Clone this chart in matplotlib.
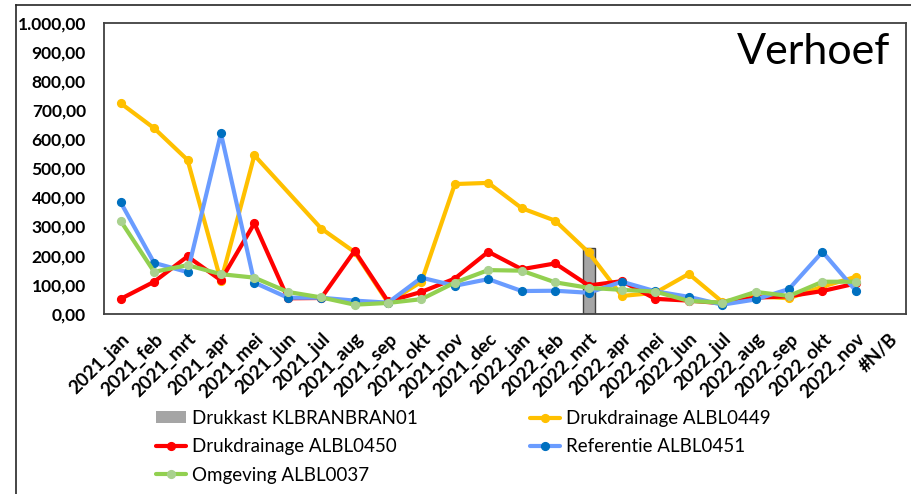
import numpy as np
import matplotlib
matplotlib.use("Agg")
import matplotlib.pyplot as plt
from matplotlib.lines import Line2D
from matplotlib.patches import Patch

plt.rcParams['font.family'] = ['Lato', 'DejaVu Sans']

nan = np.nan
categories = ['2021_jan', '2021_feb', '2021_mrt', '2021_apr', '2021_mei', '2021_jun',
              '2021_jul', '2021_aug', '2021_sep', '2021_okt', '2021_nov', '2021_dec',
              '2022_jan', '2022_feb', '2022_mrt', '2022_apr', '2022_mei', '2022_jun',
              '2022_jul', '2022_aug', '2022_sep', '2022_okt', '2022_nov', '#N/B']

drukkast_klbranbran01 = [nan] * 14 + [225] + [nan] * 9
drukdrainage_albl0449 = [724, 638, 529, 112, 545, nan, 293, 212, 38, 110, 446, 450,
                         363, 320, 211, 61, 72, 137, 41, 60, 53, 93, 127, nan]
drukdrainage_albl0450 = [51, 110, 197, 115, 311, 53, 54, 216, 42, 75, 121, 213,
                         153, 173, 97, 112, 51, 45, 36, 55, 60, 78, 104, nan]
referentie_albl0451 = [383, 175, 143, 620, 107, 55, 55, 45, 38, 124, 96, 119,
                       78, 79, 72, 110, 77, 58, 31, 49, 85, 213, 79, nan]
omgeving_albl0037 = [319, 144, 167, 136, 124, 75, 56, 31, 37, 50, 107, 150,
                     148, 108, 89, 82, 76, 44, 38, 75, 61, 110, 110, nan]

W, H = 912, 494
fig = plt.figure(figsize=(W / 100, H / 100), dpi=100)
ax = fig.add_axes([104 / W, 1 - 313.7 / H, 802 / W, 290.7 / H])

x = np.arange(len(categories))

ax.bar(x, drukkast_klbranbran01, width=0.36, color='#A5A5A5', edgecolor='#404040',
       linewidth=1.0, zorder=1)

series = [
    (drukdrainage_albl0449, 'Drukdrainage ALBL0449', '#FFC000', '#FFC000'),
    (drukdrainage_albl0450, 'Drukdrainage ALBL0450', '#FF0000', '#FF0000'),
    (referentie_albl0451, 'Referentie ALBL0451', '#6A9CFF', '#0070C0'),
    (omgeving_albl0037, 'Omgeving ALBL0037', '#92D050', '#A9D18E'),
]
handles = {}
for i, (vals, name, lc, mc) in enumerate(series):
    v = np.array(vals, dtype=float)
    m = ~np.isnan(v)
    h, = ax.plot(x[m], v[m], color=lc, lw=3.0, marker='o', markersize=5.6,
                 markerfacecolor=mc, markeredgecolor=mc, solid_joinstyle='round',
                 solid_capstyle='round', zorder=2 + i, label=name)
    handles[name] = h

ax.set_xlim(-0.5, len(categories) - 0.5)
ax.set_ylim(0, 1000)
ax.set_yticks(np.arange(0, 1001, 100))
ax.set_yticklabels([f"{v:,.2f}".replace(',', 'X').replace('.', ',').replace('X', '.')
                    for v in np.arange(0, 1001, 100)])
ax.set_xticks(x)
ax.set_xticklabels(categories, rotation=45, ha='right', va='top', rotation_mode='anchor')
ax.tick_params(axis='y', length=0, pad=13, labelsize=12.5)
ax.tick_params(axis='x', length=0, pad=12, labelsize=13.5)
for lab in ax.get_yticklabels() + ax.get_xticklabels():
    lab.set_fontweight('bold')
for s in ax.spines.values():
    s.set_color('#404040')
    s.set_linewidth(1.3)

ax.text(0.980, 0.859, 'Verhoef', transform=ax.transAxes, ha='right', va='baseline',
        fontsize=31)

bar_proxy = Patch(facecolor='#A5A5A5', edgecolor='none')
order = ['Drukkast KLBRANBRAN01', 'Drukdrainage ALBL0450', 'Omgeving ALBL0037',
         'Drukdrainage ALBL0449', 'Referentie ALBL0451']
hl = [bar_proxy if n == 'Drukkast KLBRANBRAN01' else handles[n] for n in order]
leg = fig.legend(hl, order, loc='upper left', bbox_to_anchor=(156 / W, 1 - 410 / H),
                 ncol=2, frameon=False, fontsize=13.5, handlelength=1.6,
                 handletextpad=0.3, labelspacing=0.6, columnspacing=6.0,
                 handleheight=0.6, borderpad=0, borderaxespad=0)

# outer chart frame
fig.add_artist(Line2D([16 / W, 16 / W], [0, 1 - 5.3 / H], color='#262626', lw=1.2,
                      transform=fig.transFigure))
fig.add_artist(Line2D([16 / W, 1], [1 - 5.3 / H, 1 - 5.3 / H], color='#262626', lw=1.2,
                      transform=fig.transFigure))

fig.savefig('out.png', dpi=100)
